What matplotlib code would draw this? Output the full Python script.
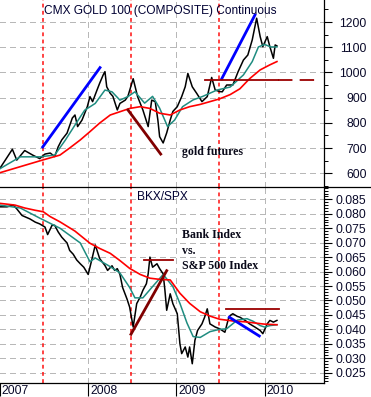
"""
Gold futures vs BKX/SPX ratio, two stacked panels with moving averages
"""
import matplotlib
matplotlib.use("Agg")
import matplotlib.pyplot as plt
from matplotlib.lines import Line2D
from matplotlib.ticker import MultipleLocator, FormatStrFormatter

plt.rcParams['font.family'] = ['Liberation Sans', 'DejaVu Sans']

# ---- gold futures (top panel) ----
gold_t = [2007.00, 2007.06, 2007.14, 2007.19, 2007.28, 2007.37, 2007.45, 2007.51, 2007.57, 2007.62,
          2007.66, 2007.70, 2007.76, 2007.82, 2007.85, 2007.88, 2007.93, 2007.99, 2008.02, 2008.05,
          2008.10, 2008.13, 2008.17, 2008.19, 2008.21, 2008.25, 2008.28, 2008.33, 2008.36, 2008.42,
          2008.45, 2008.51, 2008.56, 2008.62, 2008.68, 2008.72, 2008.76, 2008.79, 2008.81, 2008.85,
          2008.89, 2008.93, 2008.96, 2009.01, 2009.06, 2009.10, 2009.13, 2009.18, 2009.23, 2009.29,
          2009.35, 2009.40, 2009.44, 2009.49, 2009.52, 2009.57, 2009.64, 2009.70, 2009.76, 2009.81,
          2009.86, 2009.89, 2009.91, 2009.95, 2009.98, 2010.03, 2010.06, 2010.10, 2010.12, 2010.14]
gold = [620, 652, 695, 652, 690, 672, 658, 676, 680, 666,
        705, 732, 759, 819, 831, 785, 811, 864, 904, 884,
        930, 957, 990, 1003, 943, 917, 905, 851, 877, 890,
        905, 975, 904, 851, 785, 890, 884, 811, 745, 720,
        760, 811, 845, 864, 904, 943, 996, 943, 917, 884,
        904, 980, 930, 924, 923, 950, 950, 1003, 1049, 1069,
        1129, 1181, 1215, 1142, 1102, 1142, 1102, 1056, 1109, 1105]

gold_fast_t = [2007.00, 2007.23, 2007.45, 2007.62, 2007.74, 2007.85, 2007.96, 2008.08, 2008.19, 2008.27,
               2008.36, 2008.45, 2008.53, 2008.64, 2008.73, 2008.81, 2008.90, 2008.98, 2009.07, 2009.19,
               2009.30, 2009.46, 2009.61, 2009.76, 2009.86, 2009.93, 2010.00, 2010.07, 2010.14]
gold_fast = [618, 665, 665, 672, 731, 791, 850, 877, 930, 923,
             890, 904, 923, 878, 905, 858, 785, 811, 864, 891,
             905, 930, 942, 990, 1043, 1101, 1111, 1101, 1101]

gold_slow_t = [2007.00, 2007.23, 2007.48, 2007.68, 2007.79, 2007.91, 2008.02, 2008.13, 2008.25, 2008.36,
               2008.47, 2008.59, 2008.70, 2008.81, 2008.93, 2009.04, 2009.15, 2009.27, 2009.38, 2009.49,
               2009.61, 2009.72, 2009.83, 2009.95, 2010.06, 2010.14]
gold_slow = [602, 626, 652, 672, 700, 732, 765, 799, 831, 844,
             857, 864, 857, 838, 831, 851, 864, 873, 884, 895,
             912, 935, 975, 1010, 1030, 1043]

# ---- BKX/SPX ratio (bottom panel) ----
ratio_t = [2007.00, 2007.08, 2007.15, 2007.19, 2007.25, 2007.28, 2007.34, 2007.40, 2007.45, 2007.51,
           2007.54, 2007.59, 2007.62, 2007.66, 2007.70, 2007.76, 2007.79, 2007.83, 2007.87, 2007.91,
           2007.95, 2008.00, 2008.04, 2008.08, 2008.13, 2008.19, 2008.22, 2008.27, 2008.30, 2008.33,
           2008.36, 2008.39, 2008.44, 2008.47, 2008.51, 2008.55, 2008.59, 2008.62, 2008.66, 2008.68,
           2008.70, 2008.73, 2008.78, 2008.81, 2008.85, 2008.87, 2008.89, 2008.93, 2008.96, 2009.01,
           2009.04, 2009.06, 2009.10, 2009.13, 2009.15, 2009.18, 2009.21, 2009.24, 2009.29, 2009.32,
           2009.35, 2009.38, 2009.44, 2009.49, 2009.55, 2009.59, 2009.61, 2009.64, 2009.69, 2009.72,
           2009.78, 2009.83, 2009.89, 2009.95, 2009.98, 2010.03, 2010.06, 2010.10, 2010.14]
ratio = [0.0824, 0.0824, 0.0830, 0.0817, 0.0794, 0.0790, 0.0782, 0.0771, 0.0765, 0.0754,
         0.0728, 0.0760, 0.0760, 0.0737, 0.0719, 0.0699, 0.0673, 0.0660, 0.0640, 0.0627,
         0.0615, 0.0590, 0.0640, 0.0692, 0.0645, 0.0621, 0.0604, 0.0620, 0.0604, 0.0610,
         0.0590, 0.0545, 0.0505, 0.0477, 0.0408, 0.0489, 0.0512, 0.0535, 0.0558, 0.0592,
         0.0650, 0.0615, 0.0627, 0.0610, 0.0592, 0.0535, 0.0466, 0.0523, 0.0489, 0.0454,
         0.0350, 0.0316, 0.0339, 0.0304, 0.0339, 0.0281, 0.0362, 0.0396, 0.0419, 0.0442,
         0.0471, 0.0419, 0.0408, 0.0402, 0.0390, 0.0437, 0.0448, 0.0454, 0.0445, 0.0442,
         0.0431, 0.0419, 0.0408, 0.0396, 0.0385, 0.0419, 0.0431, 0.0425, 0.0431]

ratio_fast_t = [2007.00, 2007.23, 2007.45, 2007.68, 2007.91, 2008.02, 2008.08, 2008.25, 2008.36, 2008.47,
                2008.53, 2008.62, 2008.73, 2008.85, 2008.96, 2009.04, 2009.12, 2009.19, 2009.27, 2009.38,
                2009.49, 2009.57, 2009.69, 2009.80, 2009.87, 2009.95, 2010.00, 2010.06, 2010.14]
ratio_fast = [0.0830, 0.0820, 0.0785, 0.0750, 0.0699, 0.0634, 0.0647, 0.0617, 0.0595, 0.0545,
              0.0509, 0.0509, 0.0548, 0.0590, 0.0548, 0.0490, 0.0422, 0.0375, 0.0372, 0.0392,
              0.0400, 0.0402, 0.0432, 0.0437, 0.0428, 0.0413, 0.0408, 0.0413, 0.0416]

ratio_slow_t = [2007.00, 2007.17, 2007.28, 2007.40, 2007.49, 2007.57, 2007.68, 2007.85, 2008.02, 2008.13,
                2008.25, 2008.36, 2008.47, 2008.59, 2008.70, 2008.81, 2008.93, 2009.04, 2009.15, 2009.27,
                2009.38, 2009.49, 2009.64, 2009.78, 2009.89, 2010.00, 2010.14]
ratio_slow = [0.0836, 0.0830, 0.0820, 0.0812, 0.0807, 0.0790, 0.0772, 0.0740, 0.0698, 0.0680,
              0.0663, 0.0638, 0.0611, 0.0590, 0.0577, 0.0573, 0.0571, 0.0525, 0.0490, 0.0461,
              0.0446, 0.0435, 0.0429, 0.0426, 0.0422, 0.0418, 0.0416]

# hand-drawn trend lines (start/end points)
gold_up1 = ([2007.484, 2008.134], [704, 1019])
gold_down = ([2008.451, 2008.822], [851, 676])
gold_up2 = ([2009.513, 2009.891], [974, 1228])
gold_level = 970
ratio_up = ([2008.485, 2008.890], [0.0383, 0.0603])
ratio_top1 = ([2008.633, 2008.958], [0.0640, 0.0640])
ratio_top2 = ([2009.559, 2010.160], [0.0470, 0.0470])
ratio_down = ([2009.600, 2009.940], [0.0442, 0.0377])

years = [2007, 2008, 2009, 2010]
mid_years = [2007.484, 2008.485, 2009.486]

W, H = 371, 397
fig = plt.figure(figsize=(W / 100, H / 100), dpi=100)
ax1 = fig.add_axes([0, (H - 187) / H, 323.5 / W, 187 / H])
ax2 = fig.add_axes([0, (H - 382.5) / H, 323.5 / W, 195.5 / H])

xlim = (2007.0, 2010.668)
grid_kw = dict(color='#b8b8b8', lw=1.0, ls=(0, (4, 3)), zorder=0, antialiased=False)
vred_kw = dict(color='#ff1010', lw=1.1, ls=(0, (2.5, 2.2)), zorder=2)
label_color = '#0a0a2a'

for ax in (ax1, ax2):
    ax.set_xlim(*xlim)
    ax.yaxis.tick_right()
    for s in ('left', 'top'):
        ax.spines[s].set_visible(False)
    ax.spines['right'].set_linewidth(0.9)
    ax.tick_params(axis='y', which='major', direction='out', length=6, width=0.8,
                   pad=25, labelsize=8.8, labelcolor=label_color)
    ax.tick_params(axis='y', which='minor', direction='out', length=3, width=0.7)
    ax.yaxis.grid(True, which='major', **grid_kw)
    for yr in years[1:]:
        ax.axvline(yr, **grid_kw)
    for m in mid_years:
        ax.axvline(m, **vred_kw)

# top panel
ax1.set_ylim(545.3, 1287.3)
ax1.yaxis.set_major_locator(MultipleLocator(100))
ax1.yaxis.set_minor_locator(MultipleLocator(50))
ax1.spines['bottom'].set_visible(False)
ax1.tick_params(axis='x', which='both', bottom=False, labelbottom=False)
ax1.set_yticks([600, 700, 800, 900, 1000, 1100, 1200])

ax1.plot(gold_t, gold, color='black', lw=1.1, zorder=3)
ax1.plot(gold_fast_t, gold_fast, color='#1f8c80', lw=1.1, zorder=4)
ax1.plot(gold_slow_t, gold_slow, color='#ff0000', lw=1.2, zorder=4)
ax1.plot(*gold_up1, color='#0000ff', lw=2, zorder=5)
ax1.plot(*gold_down, color='#800000', lw=2, zorder=5)
ax1.plot(*gold_up2, color='#0000ff', lw=2, zorder=5)
ax1.plot([2009.324, 2010.152], [gold_level, gold_level], color='#9b0000', lw=1.3, zorder=5)
ax1.plot([2010.152, 2010.605], [gold_level, gold_level], color='#9b0000', lw=1.3,
         ls=(0, (8, 4)), zorder=5)
ax1.text(2007.50, 1243, 'CMX GOLD 100 (COMPOSITE) Continuous', fontsize=8.6,
         color='#000033', va='center', ha='left', zorder=6)
ax1.text(2009.06, 685, 'gold futures', fontsize=8.6, fontweight='bold',
         family=['Liberation Serif'], color='#0a0a1a', va='center', ha='left', zorder=6)

# bottom panel
ax2.set_ylim(0.02161, 0.08926)
ax2.yaxis.set_major_locator(MultipleLocator(0.005))
ax2.yaxis.set_minor_locator(MultipleLocator(0.001))
ax2.yaxis.set_major_formatter(FormatStrFormatter('%.3f'))
ax2.set_yticks([0.025 + 0.005 * i for i in range(13)])
ax2.spines['bottom'].set_linewidth(0.9)
ax2.set_xticks(years)
ax2.tick_params(axis='x', direction='out', length=9, width=0.8, labelbottom=False)

ax2.plot(ratio_t, ratio, color='black', lw=1.1, zorder=3)
ax2.plot(ratio_fast_t, ratio_fast, color='#1f8c80', lw=1.1, zorder=4)
ax2.plot(ratio_slow_t, ratio_slow, color='#ff0000', lw=1.2, zorder=4)
ax2.plot(*ratio_up, color='#800000', lw=2, zorder=5)
ax2.plot(*ratio_top1, color='#9b0000', lw=1.3, zorder=5)
ax2.plot(*ratio_top2, color='#9b0000', lw=1.3, zorder=5)
ax2.plot(*ratio_down, color='#0000ff', lw=2, zorder=5)
ax2.text(2008.55, 0.0857, 'BKX/SPX', fontsize=8.6, color='#000033',
         va='center', ha='left', zorder=6)
for txt, yv in zip(['Bank Index', 'vs.', 'S&P 500 Index'], [0.07265, 0.0671, 0.0619]):
    ax2.text(2009.06, yv, txt, fontsize=8.6, fontweight='bold', family=['Liberation Serif'],
             color='#0a0a1a', va='center', ha='left', zorder=6)

for lab in ax1.get_yticklabels() + ax2.get_yticklabels():
    lab.set_horizontalalignment('right')

# year labels sit just right of their tick marks
for yr in years:
    ax2.annotate(str(yr), xy=(yr, 0), xycoords=('data', 'axes fraction'),
                 xytext=(1 if yr == 2007 else 2, -8), textcoords='offset pixels',
                 fontsize=8.8, color=label_color, ha='left', va='center',
                 annotation_clip=False)

# panel divider across the whole width
fig.add_artist(Line2D([0, 1], [(H - 187) / H] * 2, color='black', lw=0.9,
                      transform=fig.transFigure))

fig.savefig('out.png', dpi=100)
